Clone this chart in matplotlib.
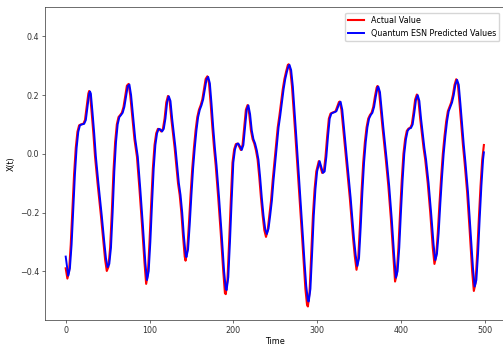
import matplotlib
matplotlib.use("Agg")
import matplotlib.pyplot as plt

actual_t = [0, 2, 4, 6, 8, 10, 12, 14, 16, 18, 21, 23, 25, 27, 28, 29, 31, 33, 35, 38, 42, 45, 47, 49,
            51, 53, 55, 57, 59, 61, 63, 65, 67, 69, 71, 73, 75, 77, 79, 82, 85, 88, 91, 94, 96,
            98, 100, 102, 104, 106, 108, 110, 112, 114, 116, 118, 120, 122, 124, 126, 128, 130, 132, 134, 136, 138, 140, 142, 143,
            145, 147, 149, 151, 153, 155, 157, 159, 161, 163, 165, 167, 169, 171, 173, 175, 177, 179, 182, 185, 188, 190, 191,
            193, 195, 197, 199, 201, 203, 205, 207, 209, 211, 213, 215, 217, 219, 221, 223, 225, 227, 229, 231, 233, 235, 237, 239,
            241, 243, 245, 247, 249, 251, 253, 255, 257, 259, 261, 263, 265, 266, 268, 270, 272, 274, 276, 278, 280, 282, 284, 286, 288, 289,
            291, 293, 295, 297, 299, 302, 304, 306, 308, 310, 312, 314, 316, 318, 320, 322, 324, 326, 327, 329, 331, 333, 335, 337, 339, 341, 343, 345, 347,
            349, 351, 353, 355, 357, 359, 361, 363, 365, 367, 369, 371, 372, 374, 376, 378, 380, 382, 385, 388, 391, 393,
            395, 397, 399, 401, 403, 405, 407, 409, 411, 413, 415, 417, 419, 421, 423, 425, 427, 429, 432, 435, 438, 440,
            442, 444, 446, 448, 450, 452, 454, 456, 458, 460, 462, 464, 466, 468, 470, 472, 474, 476, 479, 482, 485, 487,
            489, 491, 493, 495, 497, 499]
actual_v = [-0.39, -0.425, -0.40, -0.31, -0.19, -0.07, 0.02, 0.075, 0.097, 0.100, 0.102, 0.115, 0.16, 0.205, 0.214, 0.205, 0.14, 0.07, -0.01, -0.10, -0.21, -0.30, -0.36, -0.399,
            -0.385, -0.32, -0.20, -0.06, 0.04, 0.10, 0.125, 0.132, 0.14, 0.16, 0.195, 0.232, 0.238, 0.20, 0.14, 0.05, -0.01, -0.12, -0.24, -0.37, -0.443,
            -0.41, -0.30, -0.17, -0.05, 0.03, 0.07, 0.085, 0.083, 0.076, 0.085, 0.12, 0.175, 0.197, 0.18, 0.12, 0.07, 0.02, -0.04, -0.10, -0.14, -0.20, -0.28, -0.35, -0.364,
            -0.33, -0.24, -0.14, -0.05, 0.02, 0.08, 0.125, 0.15, 0.165, 0.185, 0.22, 0.255, 0.264, 0.24, 0.17, 0.09, 0.02, -0.04, -0.15, -0.27, -0.40, -0.475, -0.478,
            -0.43, -0.30, -0.16, -0.03, 0.015, 0.033, 0.035, 0.025, 0.013, 0.03, 0.09, 0.15, 0.166, 0.135, 0.08, 0.05, 0.035, 0.012, -0.02, -0.08, -0.15, -0.21, -0.26, -0.283,
            -0.26, -0.21, -0.16, -0.09, -0.03, 0.03, 0.09, 0.13, 0.175, 0.22, 0.255, 0.28, 0.302, 0.305, 0.285, 0.23, 0.15, 0.065, -0.02, -0.10, -0.19, -0.28, -0.37, -0.46, -0.515, -0.52,
            -0.47, -0.34, -0.21, -0.12, -0.06, -0.025, -0.045, -0.065, -0.06, -0.01, 0.06, 0.12, 0.137, 0.14, 0.142, 0.145, 0.16, 0.176, 0.178, 0.15, 0.09, 0.03, -0.03, -0.09, -0.15, -0.22, -0.29, -0.35, -0.395,
            -0.36, -0.25, -0.13, -0.03, 0.04, 0.09, 0.12, 0.132, 0.14, 0.16, 0.195, 0.225, 0.231, 0.21, 0.15, 0.09, 0.035, -0.02, -0.11, -0.22, -0.35, -0.435,
            -0.41, -0.32, -0.20, -0.09, 0.0, 0.05, 0.078, 0.086, 0.088, 0.10, 0.14, 0.185, 0.202, 0.18, 0.12, 0.07, 0.02, -0.02, -0.10, -0.20, -0.32, -0.375,
            -0.35, -0.27, -0.17, -0.08, 0.0, 0.06, 0.11, 0.145, 0.16, 0.175, 0.20, 0.235, 0.254, 0.235, 0.17, 0.10, 0.03, -0.03, -0.13, -0.26, -0.40, -0.467,
            -0.44, -0.34, -0.22, -0.11, -0.02, 0.03]

pred_t = [0, 3, 5, 7, 9, 11, 13, 15, 17, 19, 22, 24, 26, 28, 29, 30, 32, 34, 36, 39, 43, 46, 48, 50,
          52, 54, 56, 58, 60, 62, 64, 66, 68, 70, 72, 74, 76, 78, 80, 83, 86, 89, 92, 95, 97,
          99, 101, 103, 105, 107, 109, 111, 113, 115, 117, 119, 121, 123, 125, 127, 129, 131, 133, 135, 137, 139, 141, 143, 144,
          146, 148, 150, 152, 154, 156, 158, 160, 162, 164, 166, 168, 170, 172, 174, 176, 178, 180, 183, 186, 189, 191, 192,
          194, 196, 198, 200, 202, 204, 206, 208, 210, 212, 214, 216, 218, 220, 222, 224, 226, 228, 230, 232, 234, 236, 238, 240,
          242, 244, 246, 248, 250, 252, 254, 256, 258, 260, 262, 264, 266, 267, 269, 271, 273, 275, 277, 279, 281, 283, 285, 287, 289, 290,
          292, 294, 296, 298, 300, 303, 305, 307, 309, 311, 313, 315, 317, 319, 321, 323, 325, 327, 328, 330, 332, 334, 336, 338, 340, 342, 344, 346, 348,
          350, 352, 354, 356, 358, 360, 362, 364, 366, 368, 370, 372, 373, 375, 377, 379, 381, 383, 386, 389, 392, 394,
          396, 398, 400, 402, 404, 406, 408, 410, 412, 414, 416, 418, 420, 422, 424, 426, 428, 430, 433, 436, 439, 441,
          443, 445, 447, 449, 451, 453, 455, 457, 459, 461, 463, 465, 467, 469, 471, 473, 475, 477, 480, 483, 486, 488,
          490, 492, 494, 496, 498, 499]
pred_v = [-0.35, -0.415, -0.39, -0.31, -0.19, -0.07, 0.02, 0.075, 0.097, 0.100, 0.102, 0.115, 0.16, 0.205, 0.212, 0.205, 0.14, 0.07, -0.01, -0.10, -0.21, -0.30, -0.355, -0.386,
          -0.375, -0.32, -0.20, -0.06, 0.04, 0.10, 0.125, 0.132, 0.14, 0.16, 0.195, 0.230, 0.236, 0.20, 0.14, 0.05, -0.01, -0.12, -0.24, -0.37, -0.43,
          -0.40, -0.30, -0.17, -0.05, 0.03, 0.07, 0.085, 0.083, 0.076, 0.085, 0.12, 0.175, 0.196, 0.18, 0.12, 0.07, 0.02, -0.04, -0.10, -0.14, -0.20, -0.28, -0.34, -0.352,
          -0.325, -0.24, -0.14, -0.05, 0.02, 0.08, 0.125, 0.15, 0.165, 0.185, 0.22, 0.253, 0.262, 0.24, 0.17, 0.09, 0.02, -0.04, -0.15, -0.27, -0.40, -0.46, -0.464,
          -0.42, -0.30, -0.16, -0.03, 0.015, 0.033, 0.035, 0.025, 0.013, 0.03, 0.09, 0.15, 0.165, 0.135, 0.08, 0.05, 0.035, 0.012, -0.02, -0.08, -0.15, -0.21, -0.255, -0.273,
          -0.255, -0.21, -0.16, -0.09, -0.03, 0.03, 0.09, 0.13, 0.175, 0.22, 0.255, 0.28, 0.30, 0.303, 0.285, 0.23, 0.15, 0.065, -0.02, -0.10, -0.19, -0.28, -0.37, -0.45, -0.50, -0.503,
          -0.46, -0.34, -0.21, -0.12, -0.06, -0.025, -0.045, -0.065, -0.06, -0.01, 0.06, 0.12, 0.137, 0.14, 0.142, 0.145, 0.16, 0.175, 0.177, 0.15, 0.09, 0.03, -0.03, -0.09, -0.15, -0.22, -0.29, -0.345, -0.382,
          -0.355, -0.25, -0.13, -0.03, 0.04, 0.09, 0.12, 0.132, 0.14, 0.16, 0.195, 0.225, 0.229, 0.21, 0.15, 0.09, 0.035, -0.02, -0.11, -0.22, -0.35, -0.422,
          -0.40, -0.32, -0.20, -0.09, 0.0, 0.05, 0.078, 0.086, 0.088, 0.10, 0.14, 0.185, 0.200, 0.18, 0.12, 0.07, 0.02, -0.02, -0.10, -0.20, -0.31, -0.362,
          -0.34, -0.27, -0.17, -0.08, 0.0, 0.06, 0.11, 0.145, 0.16, 0.175, 0.20, 0.235, 0.252, 0.235, 0.17, 0.10, 0.03, -0.03, -0.13, -0.26, -0.39, -0.452,
          -0.43, -0.34, -0.22, -0.11, -0.02, 0.005]

xticks = [0, 100, 200, 300, 400, 500]
yticks = [-0.4, -0.2, 0.0, 0.2, 0.4]

FS = 5.8
fig = plt.figure(figsize=(5.03, 3.46), dpi=100)
ax = fig.add_axes([44.8 / 503, 26 / 346, 460 / 503, 313 / 346])
ax.plot(actual_t, actual_v, color='red', lw=1.5, label='Actual Value')
ax.plot(pred_t, pred_v, color='blue', lw=1.4, label='Quantum ESN Predicted Values')
ax.set_xlim(-24.95, 523.95)
ax.set_ylim(-0.566, 0.5)
ax.set_xticks(xticks)
ax.set_yticks(yticks)
ax.set_xticklabels([str(v) for v in xticks])
ax.set_yticklabels(['\u22120.4', '\u22120.2', '0.0', '0.2', '0.4'])
ax.tick_params(labelsize=FS, length=2, width=0.5, pad=2, colors='#333333')
for s in ax.spines.values():
    s.set_linewidth(0.5)
    s.set_color('#333333')
ax.set_xlabel('Time', fontsize=FS, labelpad=2)
ax.set_ylabel('X(t)', fontsize=FS, labelpad=3)
ax.legend(loc='upper right', fontsize=FS, borderaxespad=0.7, framealpha=0.8, edgecolor='#cccccc')
fig.savefig('out.png', dpi=100)
